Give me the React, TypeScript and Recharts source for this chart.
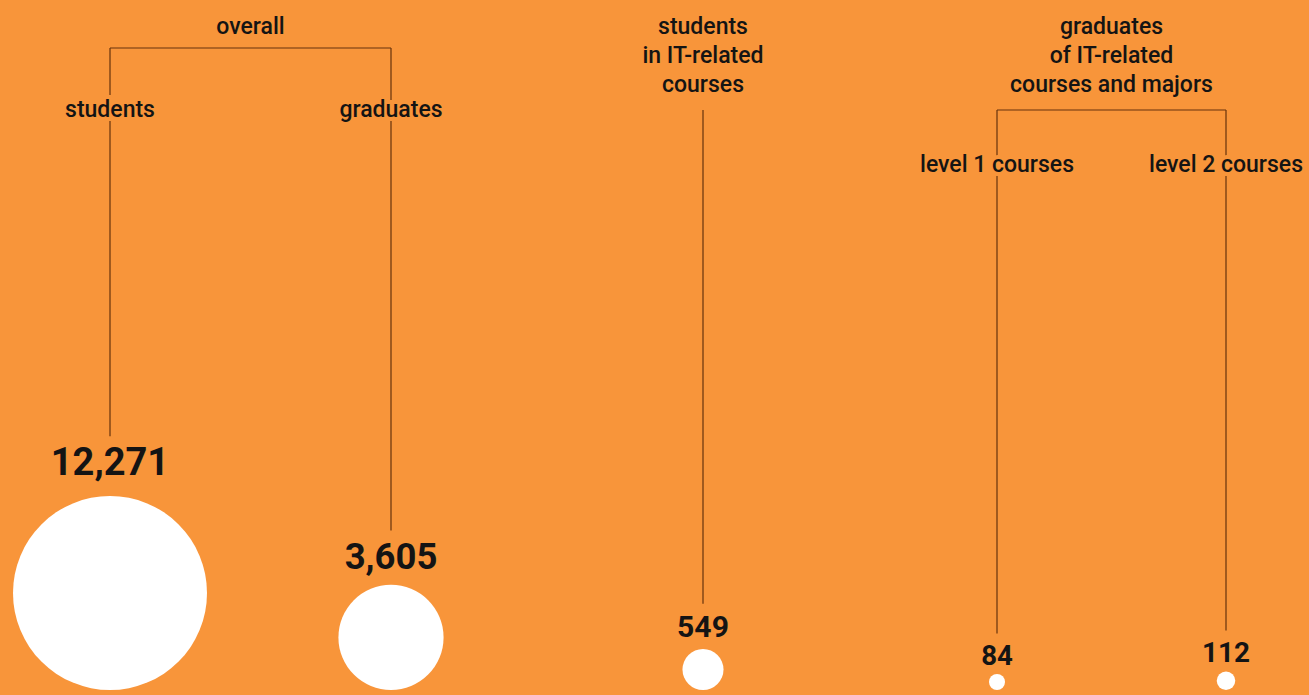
import React from "react";
import {
  ScatterChart,
  Scatter,
  XAxis,
  YAxis,
  ZAxis,
  ReferenceLine,
  Customized,
} from "recharts";

// ─── Data ────────────────────────────────────────────────────────────────────

const categories = [
  "students",
  "graduates",
  "students in IT-related courses",
  "level 1 courses",
  "level 2 courses",
];
const values = [12271, 3605, 549, 84, 112];
const valueLabels = ["12,271", "3,605", "549", "84", "112"];

// header text shown above each column (multi-line where needed)
const columnHeaders = [
  ["students"],
  ["graduates"],
  ["students", "in IT-related", "courses"],
  ["level 1 courses"],
  ["level 2 courses"],
];

const groupHeaders = [
  { lines: ["overall"], from: 0, to: 1 },
  { lines: ["graduates", "of IT-related", "courses and majors"], from: 3, to: 4 },
];

// ─── Layout (pixels, the axes map 1:1 to the page) ───────────────────────────

const W = 1309;
const H = 695;
const BASE = 690; // circles sit on this line
const MAX_R = 97;
const columnX = [110, 391, 703, 997, 1226];
const lineTop = [48, 48, 110, 110, 110];
const headerBaseline = [117, 117, 34, 172, 172];
const BRACKET_Y = [48, 110];
const LINE_H = 29;

const BG = "#F8953A";
const INK = "#141414";
const RULE = "#66330c";
const FONT = "Roboto, 'Noto Sans', sans-serif";
const LABEL_SIZE = 23;

const tableData = values.map((v, i) => ({
  name: categories[i],
  x: columnX[i],
  y: BASE,
  value: v,
  label: valueLabels[i],
  idx: i,
}));

// ─── Bubble with its value label, leader line and header ────────────────────

function Bubble(props: any) {
  const { cx, cy, width, payload } = props;
  const r = width / 2;
  const fs = Math.min(38, 26 + r * 0.2);
  const gap = 4 + Math.sqrt(r) * 1.7;
  const baseline = cy - 2 * r - gap;
  const capTop = baseline - fs * 0.711;
  const i = payload.idx;
  const header = columnHeaders[i];
  return (
    <g>
      <line
        x1={cx}
        x2={cx}
        y1={lineTop[i]}
        y2={capTop - 12}
        stroke={RULE}
        strokeWidth={1.2}
      />
      <circle cx={cx} cy={cy - r} r={r} fill="#ffffff" />
      <text
        x={cx}
        y={baseline}
        textAnchor="middle"
        fontFamily={FONT}
        fontWeight={700}
        fontSize={fs}
        fill={INK}
      >
        {payload.label}
      </text>
      {header.map((t: string, k: number) => (
        <text
          key={k}
          x={cx}
          y={headerBaseline[i] + k * LINE_H}
          textAnchor="middle"
          fontFamily={FONT}
          fontSize={LABEL_SIZE}
          fontWeight={500}
          fill={INK}
          stroke={BG}
          strokeWidth={8}
          paintOrder="stroke"
        >
          {t}
        </text>
      ))}
    </g>
  );
}

function GroupLabels() {
  return (
    <g>
      {groupHeaders.map((g, gi) => {
        const mid = (columnX[g.from] + columnX[g.to]) / 2;
        return g.lines.map((t, k) => (
          <text
            key={`${gi}-${k}`}
            x={mid}
            y={34 + k * LINE_H}
            textAnchor="middle"
            fontFamily={FONT}
            fontSize={LABEL_SIZE}
            fontWeight={500}
            fill={INK}
          >
            {t}
          </text>
        ));
      })}
    </g>
  );
}

export default function App() {
  return (
    <div style={{ width: W, height: H, background: BG }}>
      <style>{"body{margin:0}"}</style>
      <ScatterChart
        width={W}
        height={H}
        margin={{ top: 0, right: 0, bottom: H - BASE, left: 0 }}
      >
        <XAxis type="number" dataKey="x" domain={[0, W]} hide />
        <YAxis type="number" dataKey="y" domain={[0, BASE]} reversed hide />
        <ZAxis
          type="number"
          dataKey="value"
          domain={[0, values[0]]}
          range={[0, Math.PI * MAX_R * MAX_R]}
        />
        {groupHeaders.map((g, gi) => (
          <ReferenceLine
            key={gi}
            segment={[
              { x: columnX[g.from], y: BRACKET_Y[gi] },
              { x: columnX[g.to], y: BRACKET_Y[gi] },
            ]}
            stroke={RULE}
            strokeWidth={1.2}
            ifOverflow="visible"
          />
        ))}
        <Scatter
          data={tableData}
          shape={<Bubble />}
          isAnimationActive={false}
        />
        <Customized component={GroupLabels} />
      </ScatterChart>
    </div>
  );
}
